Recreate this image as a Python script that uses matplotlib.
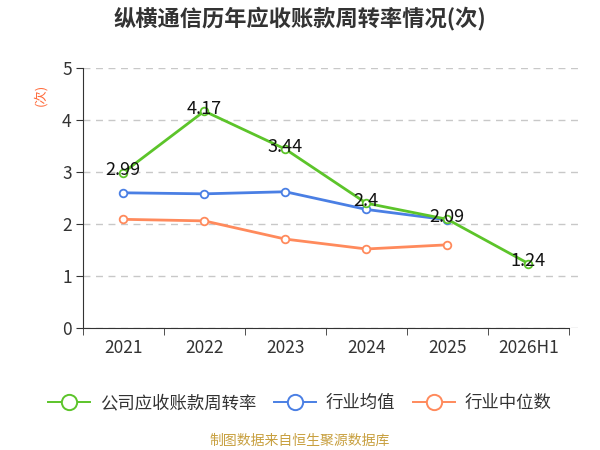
import matplotlib
matplotlib.use('Agg')
import matplotlib.pyplot as plt
from matplotlib.lines import Line2D

plt.rcParams['font.family'] = ['Noto Sans CJK SC', 'DejaVu Sans']

years = ['2021', '2022', '2023', '2024', '2025', '2026H1']
company = [2.99, 4.17, 3.44, 2.4, 2.09, 1.24]
industry_avg = [2.60, 2.58, 2.62, 2.28, 2.08]
industry_median = [2.09, 2.06, 1.71, 1.52, 1.60]

green = '#5cc42a'
blue = '#4a7fe4'
orange = '#ff8a5c'

fig = plt.figure(figsize=(6, 4.5), dpi=100)
ax = fig.add_axes([0.138, 0.271, 0.825, 0.578])

x = list(range(len(years)))
style = dict(lw=2, marker='o', ms=5.5, mfc='white', mew=1.3)
ax.plot(x[:len(industry_median)], industry_median, color=orange, **style)
ax.plot(x[:len(industry_avg)], industry_avg, color=blue, **style)
ax.plot(x, company, color=green, **style)

for i, v in enumerate(company):
    ax.text(i, v + 0.05, f'{v:g}', ha='center', va='center', fontsize=13, color='#111')

ax.set_xlim(-0.5, len(years) - 0.5 + 0.11)
ax.spines['bottom'].set_bounds(-0.5, len(years) - 0.5)
ax.set_ylim(0, 5)
ax.set_yticks([0, 1, 2, 3, 4, 5])
ax.set_xticks(x)
ax.set_xticklabels(years)
ax.set_xticks([i - 0.5 for i in range(len(years) + 1)], minor=True)
ax.tick_params(axis='x', which='major', length=0, labelsize=12.5, colors='#333', pad=8)
ax.tick_params(axis='x', which='minor', length=5, color='#333')
ax.tick_params(axis='y', length=5, labelsize=12.5, colors='#333', pad=3)
ax.yaxis.grid(True, ls=(0, (5, 4)), color='#c8c8c8', lw=1)
ax.set_axisbelow(True)
for s in ['top', 'right']:
    ax.spines[s].set_visible(False)
for s in ['left', 'bottom']:
    ax.spines[s].set_color('#333')

fig.text(0.067, 0.79, '(次)', rotation=90, color='#ff6a3a', fontsize=9.5, ha='center', va='center')
fig.text(0.5, 0.958, '纵横通信历年应收账款周转率情况(次)', ha='center', va='center',
         fontsize=16, fontweight='bold', color='#333')

# legend handles: thin line with large hollow circle
names = ['公司应收账款周转率', '行业均值', '行业中位数']
colors = [green, blue, orange]
handles = [Line2D([], [], color=c, lw=1.4, marker='o', ms=11, mfc='white', mew=1.4) for c in colors]
fig.legend(handles, names, loc='center', bbox_to_anchor=(0.5, 0.104), ncol=3, frameon=False,
           fontsize=12.5, handlelength=2.4, columnspacing=1.0, handletextpad=0.6, labelcolor='#333')

fig.text(0.5, 0.02, '制图数据来自恒生聚源数据库', ha='center', va='center', fontsize=10, color='#c8a040')

fig.savefig('out.png', dpi=100)
